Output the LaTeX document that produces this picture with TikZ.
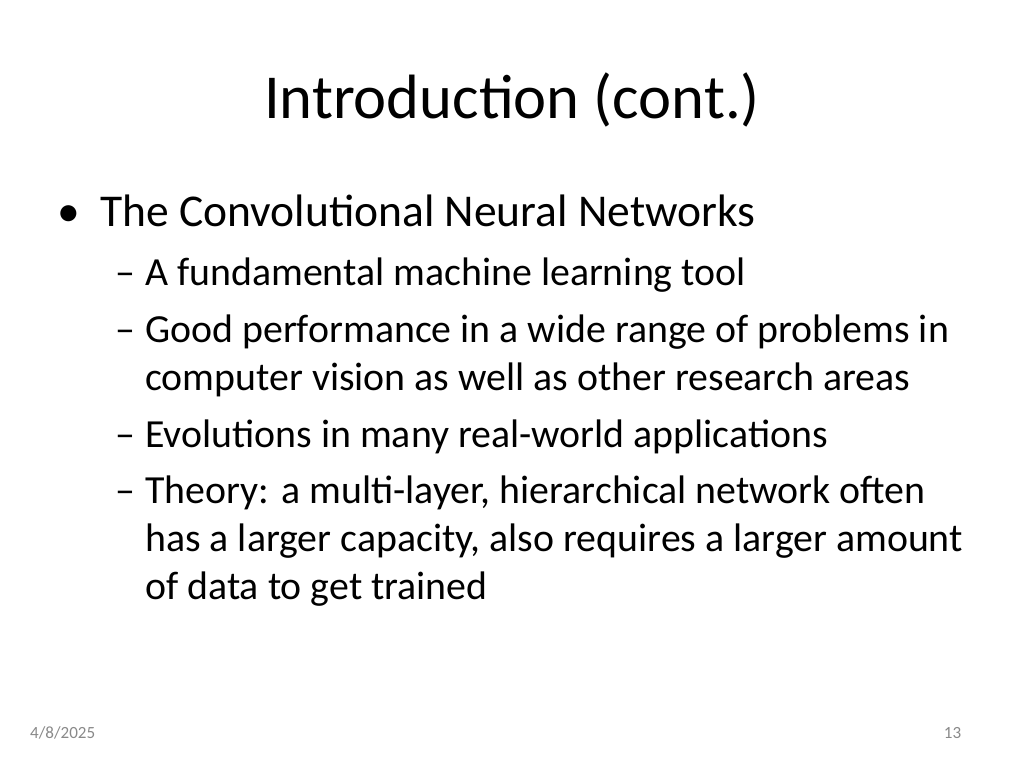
\documentclass[tikz,border=0pt]{standalone}
\usepackage{fontspec}
\setmainfont{Carlito}
\usetikzlibrary{positioning}
\definecolor{footgray}{HTML}{898989}
\begin{document}
\begin{tikzpicture}[x=1pt,y=1pt,
  lvlone/.style={anchor=base west,inner sep=0pt,font=\fontsize{32}{38}\selectfont},
  lvltwo/.style={anchor=base west,inner sep=0pt,font=\fontsize{28}{34}\selectfont},
  foot/.style={inner sep=0pt,text=footgray,font=\fontsize{12}{14}\selectfont}]
\useasboundingbox (0,0) rectangle (720,-540);
\node[anchor=base,inner sep=0pt,font=\fontsize{44}{52}\selectfont] (title) at (360,-83) {Introduction (cont.)};
% first level
\node[lvlone] (bul) at (40,-159.6) {•};
\node[lvlone] (cnn) at (70.3,-159.6) {The Convolutional Neural Networks};
% second level
\foreach \y/\t [count=\i] in {-200.4/A fundamental machine learning tool,
  -241.1/Good performance in a wide range of problems in,
  -314.3/Evolutions in many real-world applications,
  -354.3/{Theory: a multi-layer, hierarchical network often}}
  \node[lvltwo] (dash\i) at (80.9,\y) {–};
\node[lvltwo] (itA) at (102,-200.4) {A fundamental machine learning tool};
\node[lvltwo] (itB) at (102,-241.1) {Good performance in a wide range of problems in};
\node[lvltwo] (itBb) at (102,-274.9) {computer vision as well as other research areas};
\node[lvltwo] (itC) at (102,-314.3) {Evolutions in many real-world applications};
\node[lvltwo] (itD) at (102,-354.3) {Theory: a multi-layer, hierarchical network often};
\node[lvltwo] (itDb) at (102,-388.1) {has a larger capacity, also requires a larger amount};
\node[lvltwo] (itDc) at (102,-421.8) {of data to get trained};
% footer
\node[foot,anchor=west] (date) at (21,-515.3) {4/8/2025};
\node[foot,anchor=east] (page) at (676,-515.3) {13};
\end{tikzpicture}
\end{document}
